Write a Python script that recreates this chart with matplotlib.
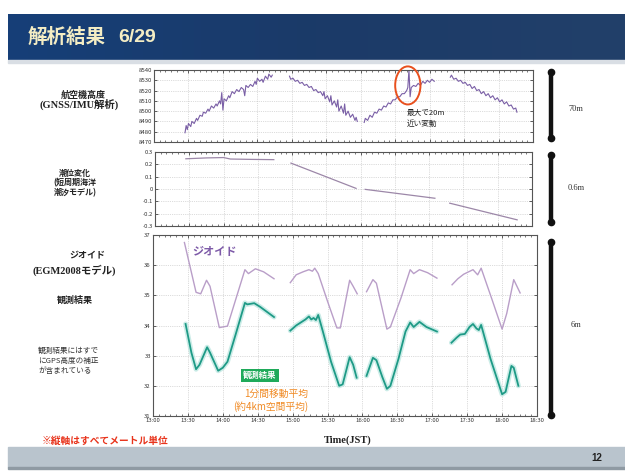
import numpy as np
import matplotlib
matplotlib.use("Agg")
import matplotlib.pyplot as plt
from matplotlib.patches import Rectangle, Ellipse
from matplotlib.ticker import MultipleLocator
from matplotlib.colors import LinearSegmentedColormap

plt.rcParams['font.family'] = ['Noto Sans CJK JP', 'DejaVu Sans']

nan = np.nan

# ---- data: minutes after 13:00 JST ----
alt_min = [27, 28, 29, 30, 32, 33, 35, 37, 38, 40, 42, 43, 45, 47, 48, 50, 52, 54, 55, 57,
           58, 59, 60, 61, 63, 65, 66, 68, 70, 72, 74, 76, 78, 79, 80, 82, 84, 86, 88, 89,
           90, 92, 94, 95, 97, 99, 100, 102, 103, nan,
           118, 119, 121, 123, 125, 127, 129, 131, 133, 135, 137, 139, 141, 143, 145, 147,
           148, 149, 151, 153, 154, 155, 157, 159, 160, 161, 163, 165, 166, 167, 169, 171,
           173, 175, 176, 177, nan,
           183, 184, 186, 188, 190, 192, 194, 196, 198, 200, 202, 204, 206, 208, 210, 212,
           214, 216, 218, 220, 221, 222, 223, 224, 226, 228, 230, 232, 234, 236, 238, 240,
           242, 244, nan,
           258, 259, 261, 263, 265, 267, 269, 271, 273, 275, 277, 279, 281, 283, 285, 287,
           289, 291, 293, 295, 297, 299, 301, 303, 305, 307, 309, 311, 313, 315, 316]
alt_m = [8479, 8486, 8482, 8488, 8485, 8490, 8488, 8493, 8491, 8496, 8495, 8499, 8498, 8502,
         8500, 8505, 8503, 8507, 8505, 8510, 8507, 8518, 8501, 8512, 8510, 8515, 8513, 8519,
         8517, 8521, 8519, 8523, 8521, 8515, 8525, 8523, 8526, 8524, 8529, 8526, 8532, 8529,
         8531, 8528, 8534, 8531, 8536, 8533, 8535, nan,
         8534, 8531, 8532, 8529, 8530, 8527, 8528, 8525, 8526, 8523, 8524, 8520, 8521, 8518,
         8519, 8515, 8519, 8512, 8515, 8509, 8515, 8506, 8510, 8504, 8511, 8500, 8505, 8498,
         8507, 8496, 8500, 8494, 8497, 8491, 8494, 8490, nan,
         8489, 8493, 8491, 8496, 8494, 8499, 8498, 8502, 8501, 8505, 8504, 8508, 8507, 8511,
         8511, 8514, 8514, 8517, 8517, 8520, 8523, 8540, 8514, 8523, 8525, 8524, 8527, 8525,
         8529, 8527, 8530, 8528, 8531, 8529, nan,
         8533, 8535, 8531, 8532, 8529, 8530, 8527, 8528, 8525, 8526, 8522, 8524, 8520, 8521,
         8517, 8519, 8515, 8517, 8513, 8515, 8511, 8513, 8509, 8511, 8507, 8509, 8505, 8506,
         8502, 8503, 8499]

tide_min = [27, 45, 60, 66, 85, 104, nan, 119, 176, nan, 184, 245, nan, 258, 317]
tide_m = [0.245, 0.252, 0.255, 0.243, 0.240, 0.238, nan, 0.210, 0.005, nan,
          -0.003, -0.075, nan, -0.115, -0.250]

geoid_min = [27, 37, 41, 46, 49, 57, 64, 79, 82, 88, 95, 104, nan,
             118, 123, 129, 134, 137, 139, 142, 150, 158, 161, 169, 172, 175.5, nan,
             183.5, 189, 192, 201, 204, 213, 221, 224, 229, 236, 244, nan,
             257, 262, 267, 275, 279, 282, 291, 300, 304, 310, 315.5]
geoid_m = [36.75, 35.10, 35.05, 35.50, 35.30, 33.93, 33.98, 35.85, 35.72, 35.88, 35.78, 35.55, nan,
           35.42, 35.68, 35.78, 35.85, 35.80, 35.90, 35.72, 34.80, 33.92, 33.92, 35.50, 35.30, 35.05, nan,
           35.12, 35.52, 35.40, 33.88, 33.95, 34.90, 35.85, 35.72, 35.85, 35.75, 35.57, nan,
           35.35, 35.55, 35.70, 35.85, 35.68, 35.90, 34.90, 33.88, 34.40, 35.52, 35.08]

obs_min = [28, 33, 37, 40, 46.5, 49, 56, 60, 64, 71, 79, 81, 84, 87, 92, 98, 104, nan,
           118, 123, 127, 131, 134, 136, 138, 140, 142, 146, 153, 160, 163, 169, 172, 175, nan,
           183.5, 189, 192, 197, 201, 204, 211, 217, 221, 224, 229, 235, 244, nan,
           256.5, 261, 264, 268, 272, 275, 278, 280, 282, 290, 300, 303, 308, 310, 314]
obs_m = [34.05, 33.10, 32.55, 32.70, 33.28, 33.10, 32.50, 32.60, 32.80, 33.70, 34.75, 34.70,
         34.72, 34.74, 34.62, 34.45, 34.28, nan,
         33.83, 34.00, 34.10, 34.20, 34.30, 34.20, 34.25, 34.18, 34.35, 33.80, 32.80, 32.00,
         32.05, 32.95, 32.70, 32.27, nan,
         32.33, 32.93, 32.85, 32.30, 31.90, 32.00, 32.90, 33.80, 34.10, 33.95, 34.12, 33.95, 33.80, nan,
         33.43, 33.60, 33.70, 33.72, 33.95, 34.05, 33.90, 33.85, 34.02, 32.90, 31.72, 31.80,
         32.66, 32.60, 32.00]

time_ticks = [0, 30, 60, 90, 120, 150, 180, 210, 240, 270, 300, 330]
time_labels = ["13:00", "13:30", "14:00", "14:30", "15:00", "15:30", "16:00",
               "16:30", "17:00", "17:30", "18:00", "18:30"]
alt_ticks = [8470, 8480, 8490, 8500, 8510, 8520, 8530, 8540]
tide_ticks = [-0.3, -0.2, -0.1, 0.0, 0.1, 0.2, 0.3]
tide_labels = ["-0.3", "-0.2", "-0.1", "0", "0.1", "0.2", "0.3"]
height_ticks = [31, 32, 33, 34, 35, 36, 37]

W, H = 625, 472
fig = plt.figure(figsize=(W / 100, H / 100), dpi=100)
fig.patch.set_facecolor("white")

# slide background in pixel coordinates
bg = fig.add_axes([0, 0, 1, 1])
bg.set_zorder(0)

# title bar with a gentle horizontal gradient
grad = np.linspace(0, 1, 256).reshape(1, -1)
bar_cmap = LinearSegmentedColormap.from_list("bar", ["#163f78", "#1b3a68", "#22406a"])
bg.imshow(grad, extent=(8, W, 60, 14), cmap=bar_cmap, aspect="auto", zorder=1)
bg.add_patch(Rectangle((8, 60), W - 8, 3, color="#d9dee4", zorder=1))
bg.set_xlim(0, W)
bg.set_ylim(H, 0)
bg.axis("off")
bg.text(28, 37, "解析結果", color="#f4edc4", fontsize=14, fontweight="bold",
        va="center", ha="left", zorder=2)
bg.text(118, 37, "6/29", color="#f4edc4", fontsize=14, fontweight="bold",
        va="center", ha="left", family=["Liberation Sans", "DejaVu Sans"], zorder=2)

# footer
bg.add_patch(Rectangle((8, 447), W - 8, 20, color="#b9c4cd", zorder=1))
bg.add_patch(Rectangle((8, 467), W - 8, 2, color="#8f9aa3", zorder=1))
bg.text(597, 458, "12", fontsize=7, fontweight="bold", color="#222222",
        ha="center", va="center", family=["Liberation Sans", "DejaVu Sans"], zorder=2)

# left-hand captions
lab_fam = ["Liberation Serif", "Noto Sans CJK JP"]
bg.text(83, 95, "航空機高度", fontsize=6.5, fontweight="bold", ha="center", va="center", color="#222")
bg.text(79, 104, "(GNSS/IMU解析)", fontsize=7.5, fontweight="bold", ha="center", va="center",
        family=lab_fam, color="#222")
bg.text(75, 183, "潮位変化\n(短周期海洋\n潮汐モデル)", fontsize=5.8, fontweight="bold",
        ha="center", va="center", linespacing=1.05, color="#222")
bg.text(87, 255, "ジオイド", fontsize=6.5, fontweight="bold", ha="center", va="center", color="#222")
bg.text(74, 270, "(EGM2008モデル)", fontsize=7.5, fontweight="bold", ha="center", va="center",
        family=lab_fam, color="#222")
bg.text(75, 300, "観測結果", fontsize=6.5, fontweight="bold", ha="center", va="center", color="#222")
bg.text(38, 361, "観測結果にはすで\nにGPS高度の補正\nが含まれている", fontsize=5.5,
        ha="left", va="center", linespacing=1.35, color="#333")

# red note and x-axis caption
bg.text(42, 441, "※縦軸はすべてメートル単位", fontsize=7, fontweight="bold", color="#e8341c",
        ha="left", va="center")
bg.text(348, 440, "Time(JST)", fontsize=7.5, fontweight="bold", color="#222",
        family=["Liberation Serif", "DejaVu Serif"], ha="center", va="center")

# scale arrows on the right
for (y0, y1, lab, ly) in [(72, 138, "70m", 109), (155, 222, "0.6m", 188), (242, 415, "6m", 325)]:
    bg.plot([551, 551], [y0, y1], color="#111111", lw=3.2, solid_capstyle="round", zorder=2)
    bg.plot([551, 551], [y0, y1], ls="none", marker="o", ms=4.5, color="#111111", zorder=2)
    bg.text(576, ly, lab, fontsize=6, color="#333", ha="center", va="center",
            family=["Liberation Serif", "DejaVu Serif"])


def px_axes(left, top, right, bottom):
    ax = fig.add_axes([left / W, 1 - bottom / H, (right - left) / W, (bottom - top) / H])
    ax.set_zorder(1)
    ax.set_xlim(0, 330)
    ax.set_xticks(time_ticks)
    ax.xaxis.set_minor_locator(MultipleLocator(5))
    ax.tick_params(which="both", direction="in", top=True, right=True,
                   labelsize=4.3, pad=1.5, colors="#444444", labelcolor="#333333")
    ax.tick_params(which="major", length=2.5, width=0.6)
    ax.tick_params(which="minor", length=1.6, width=0.5)
    ax.grid(True, which="major", color="#bbbbbb", ls=":", lw=0.5)
    for s in ax.spines.values():
        s.set_color("#555555")
        s.set_linewidth(0.8)
    return ax


ax1 = px_axes(154, 70, 533, 142)
ax1.plot(alt_min, alt_m, color="#7a5fa6", lw=0.8)
ax1.set_ylim(8470, 8540)
ax1.set_yticks(alt_ticks)
ax1.set_xticklabels([])
ax1.add_patch(Ellipse((221, 8525), 22, 37, fill=False, ec="#e8501e", lw=1.4, clip_on=False, zorder=5))
ax1.text(220, 8502, "最大で20m\n近い変動", fontsize=5.5, color="#222", ha="left", va="top",
         linespacing=1.4, clip_on=False, zorder=5)

ax2 = px_axes(155, 152, 532, 226)
ax2.plot(tide_min, tide_m, color="#9c87a8", lw=0.9)
ax2.set_ylim(-0.3, 0.3)
ax2.set_yticks(tide_ticks)
ax2.set_yticklabels(tide_labels)
ax2.set_xticklabels([])

ax3 = px_axes(153, 235, 537, 416)
ax3.plot(geoid_min, geoid_m, color="#b99ec8", lw=1.0)
ax3.plot(obs_min, obs_m, color="#bfe8e2", lw=3.6, alpha=0.8, solid_capstyle="round")
ax3.plot(obs_min, obs_m, color="#1e9a86", lw=1.3)
ax3.set_ylim(31, 37)
ax3.set_yticks(height_ticks)
ax3.set_xticklabels(time_labels)
ax3.text(34, 36.45, "ジオイド", fontsize=8, fontweight="bold", style="italic",
         color="#7d5aa8", ha="left", va="center")
ax3.text(92, 32.35, "観測結果", fontsize=6, fontweight="bold", color="white", ha="center",
         va="center", bbox=dict(boxstyle="square,pad=0.25", fc="#1faa5a", ec="none"))
ax3.text(106, 31.72, "1分間移動平均", fontsize=7, color="#f08a24", ha="center", va="center")
ax3.text(101, 31.3, "(約4km空間平均)", fontsize=7, color="#f08a24", ha="center", va="center")

fig.savefig("out.png", dpi=100, facecolor="white")
